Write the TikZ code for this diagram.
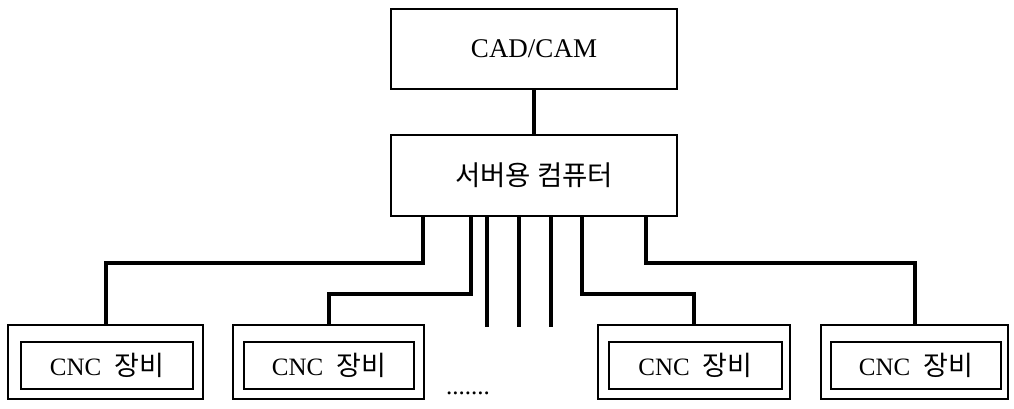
\documentclass[tikz,border=0pt]{standalone}
\usepackage{fontspec}
\setmainfont{Liberation Serif}
\newfontfamily\kr{Noto Sans CJK KR}
\begin{document}
\begin{tikzpicture}[x=1pt,y=-1pt,
  bigbox/.style={draw,line width=2pt,minimum width=286pt,inner sep=0pt},
  outerbox/.style={draw,line width=1.8pt,minimum height=74pt,inner sep=0pt},
  innerbox/.style={draw,line width=2.6pt,minimum height=47pt,inner sep=0pt,
    font=\fontsize{25}{28}\selectfont},
  conn/.style={line width=4pt}]
\useasboundingbox (0,0) rectangle (1014,408);

\node[bigbox,minimum height=80pt,font=\fontsize{27}{30}\selectfont] (cad) at (534,49) {CAD/CAM};
\node[bigbox,minimum height=81pt,font=\kr\fontsize{27.5}{30}\selectfont] (srv) at (534,175.5) {서버용 컴퓨터};

\newcommand\cnctext{CNC\hspace{13pt}{\kr\fontsize{27}{30}\selectfont 장비}}

\node[outerbox,minimum width=195pt] (c1o) at (105.5,362) {};
\node[innerbox,minimum width=172pt] (c1i) at (107,365.5) {\cnctext};
\node[outerbox,minimum width=191pt] (c2o) at (328.5,362) {};
\node[innerbox,minimum width=170pt] (c2i) at (329,365.5) {\cnctext};
\node[outerbox,minimum width=192pt] (c3o) at (694,362) {};
\node[innerbox,minimum width=173pt] (c3i) at (695.5,365.5) {\cnctext};
\node[outerbox,minimum width=187pt] (c4o) at (914.5,362) {};
\node[innerbox,minimum width=170pt] (c4i) at (916,365.5) {\cnctext};

\node[anchor=base,font=\fontsize{25}{28}\selectfont,inner sep=0pt] (dots) at (468,394) {.......};

\draw[conn] (cad.south) -- (srv.north);

\coordinate (p1) at (423,216);  \coordinate (q1) at (105.5,263);
\coordinate (p2) at (471,216);  \coordinate (q2) at (328.5,294);
\coordinate (p3) at (582,216);  \coordinate (q3) at (694,294);
\coordinate (p4) at (646,216);  \coordinate (q4) at (914.5,263);

\draw[conn] (p1) |- (q1) -- (c1o.north);
\draw[conn] (p2) |- (q2) -- (c2o.north);
\draw[conn] (p3) |- (q3) -- (c3o.north);
\draw[conn] (p4) |- (q4) -- (c4o.north);

\coordinate (m1) at (487,216); \coordinate (e1) at (487,327);
\coordinate (m2) at (519,216); \coordinate (e2) at (519,327);
\coordinate (m3) at (551,216); \coordinate (e3) at (551,327);
\draw[conn] (m1) -- (e1);
\draw[conn] (m2) -- (e2);
\draw[conn] (m3) -- (e3);
\end{tikzpicture}
\end{document}
